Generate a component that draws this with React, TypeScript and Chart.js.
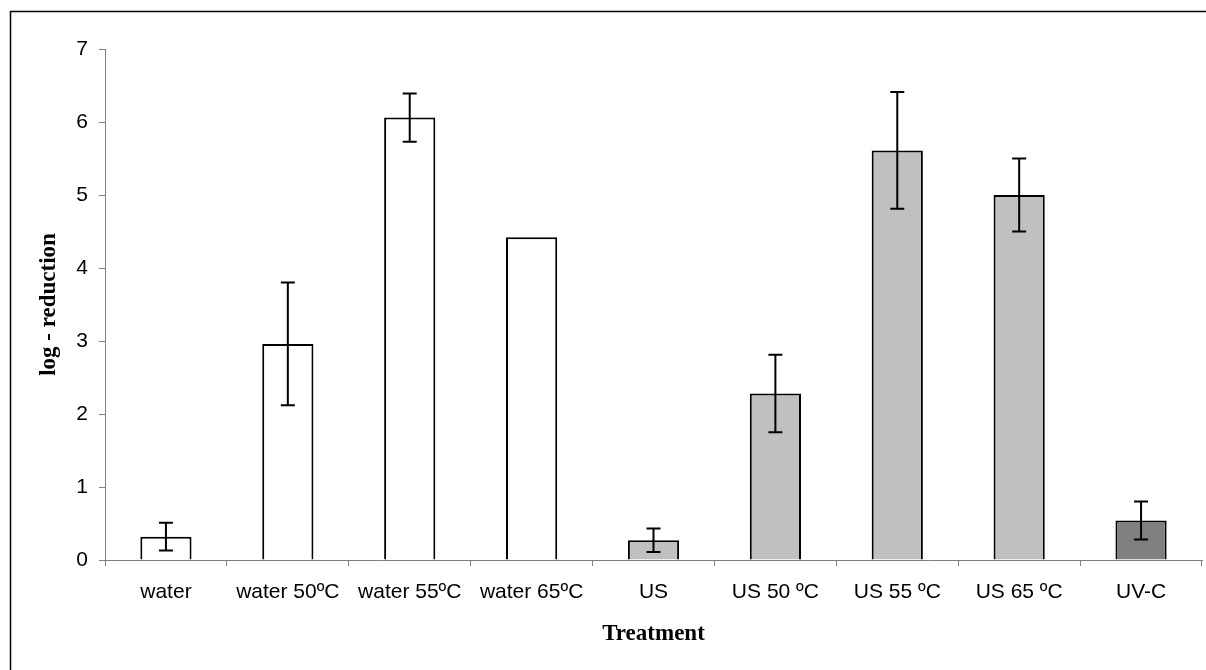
import React, { useEffect, useRef } from "react";
import { Chart, registerables } from "chart.js";

Chart.register(...registerables);

const categories = [
  "water",
  "water 50ºC",
  "water 55ºC",
  "water 65ºC",
  "US",
  "US 50 ºC",
  "US 55 ºC",
  "US 65 ºC",
  "UV-C",
];
const logReduction = [0.32, 2.96, 6.06, 4.42, 0.27, 2.28, 5.61, 5.0, 0.54];
const errors = [0.19, 0.84, 0.33, 0, 0.16, 0.53, 0.8, 0.5, 0.26];
const barColors = [
  "#ffffff",
  "#ffffff",
  "#ffffff",
  "#ffffff",
  "#c0c0c0",
  "#c0c0c0",
  "#c0c0c0",
  "#c0c0c0",
  "#808080",
];
const yTicks = [0, 1, 2, 3, 4, 5, 6, 7];

const errorBarPlugin = {
  id: "errorBars",
  afterDatasetsDraw(chart: any) {
    const ctx = chart.ctx;
    const meta = chart.getDatasetMeta(0);
    const y = chart.scales.y;
    ctx.save();
    ctx.strokeStyle = "#000000";
    ctx.lineWidth = 2;
    meta.data.forEach((bar: any, i: number) => {
      const e = errors[i];
      if (!e) return;
      const x = bar.x;
      const top = y.getPixelForValue(logReduction[i] + e);
      const bot = y.getPixelForValue(logReduction[i] - e);
      const cap = 7;
      ctx.beginPath();
      ctx.moveTo(x, top);
      ctx.lineTo(x, bot);
      ctx.moveTo(x - cap, top);
      ctx.lineTo(x + cap, top);
      ctx.moveTo(x - cap, bot);
      ctx.lineTo(x + cap, bot);
      ctx.stroke();
    });
    ctx.restore();
  },
};

const framePlugin = {
  id: "frame",
  beforeDraw(chart: any) {
    const ctx = chart.ctx;
    ctx.save();
    ctx.fillStyle = "#ffffff";
    ctx.fillRect(0, 0, chart.width, chart.height);
    ctx.strokeStyle = "#000000";
    ctx.lineWidth = 1.5;
    ctx.beginPath();
    ctx.moveTo(10.5, chart.height);
    ctx.lineTo(10.5, 11.5);
    ctx.lineTo(chart.width, 11.5);
    ctx.stroke();
    ctx.restore();
  },
};

export default function App() {
  const ref = useRef<HTMLCanvasElement | null>(null);

  useEffect(() => {
    if (!ref.current) return;
    const chart = new Chart(ref.current, {
      type: "bar",
      data: {
        labels: categories,
        datasets: [
          {
            data: logReduction,
            backgroundColor: barColors,
            borderColor: "#000000",
            borderWidth: 2,
            barPercentage: 0.42,
            categoryPercentage: 1,
          },
        ],
      },
      options: {
        responsive: false,
        animation: false,
        devicePixelRatio: 1,
        layout: { padding: { left: 0, top: 49, right: 4, bottom: 0 } },
        plugins: {
          legend: { display: false },
          tooltip: { enabled: false },
        },
        scales: {
          x: {
            grid: {
              offset: true,
              drawOnChartArea: false,
              drawTicks: true,
              tickLength: 6,
              color: "#808080",
              lineWidth: 1,
            },
            border: { display: true, color: "#808080", width: 1 },
            ticks: {
              color: "#000000",
              padding: 14,
              maxRotation: 0,
              autoSkip: false,
              font: { family: "'Liberation Sans', Arial, sans-serif", size: 21 },
            },
            title: {
              display: true,
              text: "Treatment",
              color: "#000000",
              font: {
                family: "'Liberation Serif', 'Times New Roman', serif",
                size: 23,
                weight: "bold",
                lineHeight: 1.2,
              },
              padding: { top: 0, bottom: 22 },
            },
            afterFit(scale: any) {
              scale.height = 110;
            },
          },
          y: {
            min: 0,
            max: 7,
            afterBuildTicks(scale: any) {
              scale.ticks = yTicks.map((v) => ({ value: v }));
            },
            grid: {
              drawOnChartArea: false,
              drawTicks: true,
              tickLength: 6,
              color: "#808080",
              lineWidth: 1,
            },
            border: { display: true, color: "#808080", width: 1 },
            ticks: {
              color: "#000000",
              padding: 11,
              font: { family: "'Liberation Sans', Arial, sans-serif", size: 21 },
            },
            title: {
              display: true,
              text: "log - reduction",
              color: "#000000",
              font: {
                family: "'Liberation Serif', 'Times New Roman', serif",
                size: 23,
                weight: "bold",
                lineHeight: 1.2,
              },
              padding: { top: 35, bottom: 0 },
            },
            afterFit(scale: any) {
              scale.width = 105;
            },
          },
        },
      },
      plugins: [framePlugin, errorBarPlugin],
    });
    return () => chart.destroy();
  }, []);

  return (
    <div style={{ position: "absolute", left: 0, top: 0, width: 1206, height: 670 }}>
      <canvas ref={ref} width={1206} height={670} style={{ display: "block" }} />
    </div>
  );
}
